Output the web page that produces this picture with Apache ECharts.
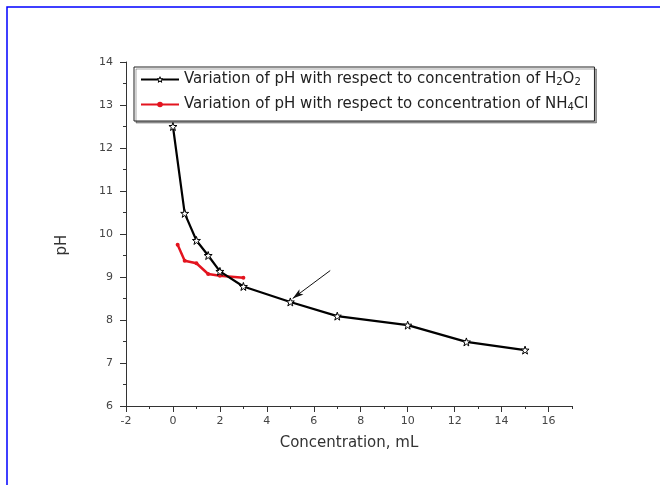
<!DOCTYPE html>
<html>
	<head>
		<meta charset="UTF-8">
		<title>pH vs concentration</title>
		<style>
			html, body { margin: 0; padding: 0; background: #fff; }
			.box { width: 660px; height: 485px; }
		</style>
	</head>
	<body>
		<div class="box"></div>
		<script src="https://cdn.jsdelivr.net/npm/echarts@6/dist/echarts.min.js"></script>
		<script>
			// H2O2 series
			var h2o2X = [0, 0.5, 1, 1.5, 2, 3, 5, 7, 10, 12.5, 15];
			var h2o2Y = [12.5, 10.48, 9.85, 9.5, 9.13, 8.78, 8.42, 8.09, 7.88, 7.49, 7.3];
			// NH4Cl series
			var nh4X = [0.2, 0.5, 1, 1.5, 2, 3];
			var nh4Y = [9.75, 9.38, 9.32, 9.07, 9.03, 8.98];
			// tick labels
			var xLabels = [-2, 0, 2, 4, 6, 8, 10, 12, 14, 16];
			// arrow annotation (data coords)
			var arrowFrom = [6.7, 9.15];
			var arrowTo = [5.1, 8.5];

			var nameH2O2 = 'Variation of pH with respect to concentration of H2O2';
			var nameNH4 = 'Variation of pH with respect to concentration of NH4Cl';

			var pairs = function (xs, ys) {
				var res = [];
				for (var i = 0; i < xs.length; i++) {
					res.push([xs[i], ys[i]]);
				}
				return res;
			};

			var star = 'path://M10 0 L12.35 6.76 L19.51 6.91 L13.80 11.24 L15.88 18.09 L10 14 L4.12 18.09 L6.20 11.24 L0.49 6.91 L7.65 6.76 Z';
			var font = 'DejaVu Sans, Verdana, sans-serif';
			var axisColor = '#333';

			var myChart = echarts.init(document.querySelector('.box'), null, { renderer: 'canvas' });

			var option = {
				animation: false,
				backgroundColor: '#fff',
				graphic: [{
					type: 'rect',
					shape: { x: 7, y: 7, width: 720, height: 600 },
					style: { fill: 'none', stroke: '#0000ff', lineWidth: 1.5 },
					silent: true
				}],
				grid: { left: 126, right: 88, top: 62, bottom: 79 },
				legend: {
					orient: 'vertical',
					left: 134, top: 67,
					padding: [5, 6, 9, 6],
					itemWidth: 38, itemHeight: 7, itemGap: 10,
					borderColor: '#222', borderWidth: 1,
					backgroundColor: '#fff',
					shadowColor: 'rgba(0,0,0,0.35)', shadowOffsetX: 2, shadowOffsetY: 2, shadowBlur: 0,
					data: [{
						name: nameH2O2,
						itemStyle: { color: '#fff', borderColor: '#000', borderWidth: 1 }
					}, {
						name: nameNH4
					}],
					formatter: function (name) {
						return name.replace(/(\d)/g, '{s|$1}');
					},
					textStyle: {
						fontFamily: font, fontSize: 15, color: '#222',
						rich: { s: { fontFamily: font, fontSize: 10, color: '#222', verticalAlign: 'bottom' } }
					}
				},
				xAxis: [{
					type: 'value', min: -2, max: 17, interval: 1,
					name: 'Concentration, mL', nameLocation: 'middle', nameGap: 30,
					nameTextStyle: { fontFamily: font, fontSize: 15, color: '#333' },
					axisLine: { onZero: false, lineStyle: { color: axisColor, width: 1 } },
					axisTick: { length: 3, lineStyle: { color: axisColor } },
					axisLabel: { show: false },
					splitLine: { show: false }
				}, {
					type: 'value', min: -2, max: 17, position: 'bottom',
					axisLine: { show: false },
					axisTick: { length: 6, customValues: xLabels, lineStyle: { color: axisColor } },
					axisLabel: { customValues: xLabels, fontFamily: font, fontSize: 11, color: '#444', margin: 10 },
					splitLine: { show: false }
				}],
				yAxis: {
					type: 'value', min: 6, max: 14, interval: 1,
					name: 'pH', nameLocation: 'middle', nameGap: 56,
					nameTextStyle: { fontFamily: font, fontSize: 15, color: '#333', padding: [0, 0, 0, -22] },
					axisLine: { onZero: false, lineStyle: { color: axisColor, width: 1 } },
					axisTick: { length: 6, lineStyle: { color: axisColor } },
					minorTick: { show: true, splitNumber: 2, length: 3, lineStyle: { color: axisColor } },
					axisLabel: { fontFamily: font, fontSize: 11, color: '#444', margin: 13 },
					splitLine: { show: false },
					minorSplitLine: { show: false }
				},
				series: [{
					name: nameH2O2,
					type: 'line',
					data: pairs(h2o2X, h2o2Y),
					symbol: star, symbolSize: 8,
					itemStyle: { color: '#fff', borderColor: '#000', borderWidth: 1 },
					lineStyle: { color: '#000', width: 2.2 },
					z: 3,
					markLine: {
						silent: true,
						symbol: ['none', 'arrow'],
						symbolSize: [5, 11],
						label: { show: false },
						lineStyle: { color: '#111', width: 1, type: 'solid' },
						data: [[{ coord: arrowFrom }, { coord: arrowTo }]]
					}
				}, {
					name: nameNH4,
					type: 'line',
					data: pairs(nh4X, nh4Y),
					symbol: 'circle', symbolSize: 4,
					itemStyle: { color: '#e3141f' },
					lineStyle: { color: '#e3141f', width: 2.5 },
					z: 2
				}]
			};
			myChart.setOption(option);
		</script>
	</body>
</html>
